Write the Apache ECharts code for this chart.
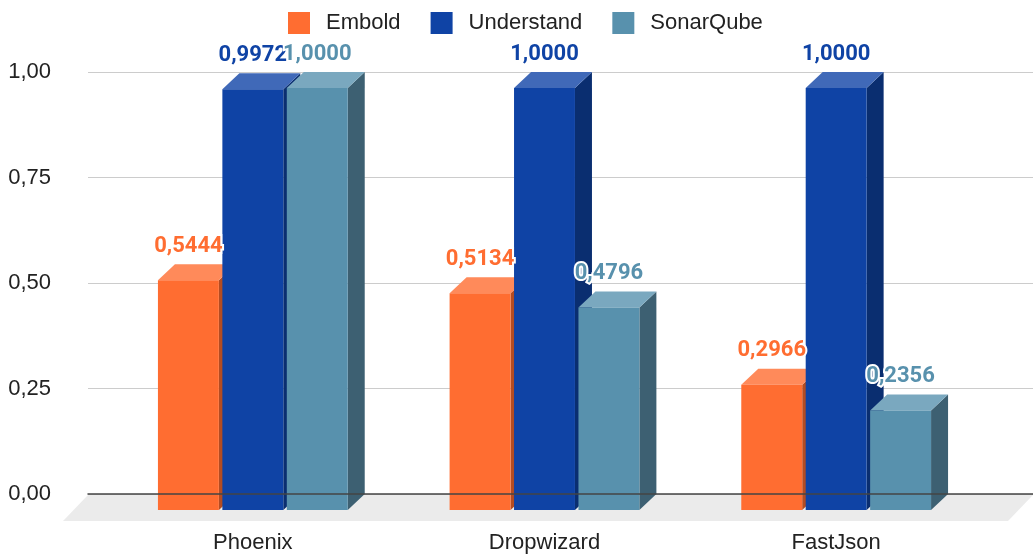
<!DOCTYPE html>
<html>
<head>
<meta charset="utf-8">
<script src="https://cdn.jsdelivr.net/npm/echarts@6/dist/echarts.min.js"></script>
<style>
    html, body { margin: 0; padding: 0; background: #fff; }
    #chart { width: 1033px; height: 556px; }
</style>
</head>
<body>
<div id="chart"></div>
<script>
// data
let categories = ['Phoenix', 'Dropwizard', 'FastJson'];
let seriesNames = ['Embold', 'Understand', 'SonarQube'];
let embold = [0.5444, 0.5134, 0.2966];
let understand = [0.9972, 1.0000, 1.0000];
let sonarqube = [1.0000, 0.4796, 0.2356];

// front / top / side colours
let palette = [
    {front: '#ff6d31', top: '#ff8a5a', side: '#b34c22'},
    {front: '#0f43a5', top: '#4069b8', side: '#0a2e70'},
    {front: '#5891ad', top: '#7aa8bf', side: '#3d6072'}
];

let depthX = 17, depthY = 16;
let axisFont = 'Liberation Sans';

function fmt(v, d) {
    return v.toFixed(d).replace('.', ',');
}

function renderBar(params, api) {
    let si = params.seriesIndex - 1;
    let ci = api.value(0);
    let v = api.value(1);
    let pt = api.coord([ci, v]);
    let base = api.coord([ci, 0]);
    let band = api.size([1, 0])[0];
    let barW = band * 61 / 292;
    let step = band * 64.5 / 292;
    let x0 = pt[0] + (si - 1) * step - barW / 2;
    let x1 = x0 + barW;
    let c = palette[si];
    return {
        type: 'group',
        children: [
            {
                type: 'polygon',
                shape: {points: [[x1, pt[1]], [x1 + depthX, pt[1] - depthY], [x1 + depthX, base[1] - depthY], [x1, base[1]]]},
                style: {fill: c.side}
            },
            {
                type: 'polygon',
                shape: {points: [[x0, pt[1]], [x0 + depthX, pt[1] - depthY], [x1 + depthX, pt[1] - depthY], [x1, pt[1]]]},
                style: {fill: c.top}
            },
            {
                type: 'rect',
                shape: {x: x0, y: pt[1], width: barW, height: base[1] - pt[1]},
                style: {fill: c.front}
            },
            {
                type: 'text',
                z2: 100 + si,
                style: {
                    x: x0 + barW / 2,
                    y: pt[1] - depthY - 18,
                    text: fmt(v, 4),
                    fill: c.front,
                    font: 'bold 22px Roboto',
                    align: 'center',
                    verticalAlign: 'middle',
                    stroke: '#fff',
                    lineWidth: 4
                }
            }
        ]
    };
}

function renderFloor(params, api) {
    let cs = params.coordSys;
    let top = cs.y + cs.height + 1;
    let dx = 25, dy = 26;
    return {
        type: 'polygon',
        shape: {points: [[cs.x, top], [cs.x + cs.width, top], [cs.x + cs.width - dx, top + dy], [cs.x - dx, top + dy]]},
        style: {fill: '#ebebeb'}
    };
}

let allValues = [embold, understand, sonarqube];
let barSeries = seriesNames.map((name, i) => ({
    name: name,
    type: 'custom',
    xAxisIndex: 1,
    yAxisIndex: 1,
    itemStyle: {color: palette[i].front},
    renderItem: renderBar,
    data: allValues[i].map((v, k) => [k, v])
}));

let ctx = document.getElementById('chart');
let chart = echarts.init(ctx, null, {renderer: 'canvas'});
let option = {
    animation: false,
    legend: {
        data: seriesNames,
        left: 283,
        top: 7,
        icon: 'rect',
        itemWidth: 22,
        itemHeight: 22,
        itemGap: 30,
        textStyle: {fontSize: 22, fontFamily: axisFont, color: '#222', padding: [0, 0, 0, 11]}
    },
    grid: [
        // back plane
        {left: 88, right: 0, top: 72, bottom: 62},
        // front plane
        {left: 107, right: 51, top: 88, bottom: 46}
    ],
    xAxis: [
        {
            gridIndex: 0,
            type: 'category',
            data: categories,
            axisLine: {show: true, lineStyle: {color: '#444', width: 1.5}},
            axisTick: {show: false},
            axisLabel: {show: false},
            z: 3
        },
        {
            gridIndex: 1,
            type: 'category',
            data: categories,
            axisLine: {show: false},
            axisTick: {show: false},
            axisLabel: {margin: 22, fontSize: 22, fontFamily: axisFont, color: '#222'}
        }
    ],
    yAxis: [
        {
            gridIndex: 0,
            type: 'value',
            min: 0,
            max: 1,
            interval: 0.25,
            axisLine: {show: false},
            axisTick: {show: false},
            splitLine: {lineStyle: {color: '#cccccc'}},
            axisLabel: {margin: 37, fontSize: 22, fontFamily: axisFont, color: '#222', formatter: v => fmt(v, 2)}
        },
        {
            gridIndex: 1,
            type: 'value',
            min: 0,
            max: 1,
            show: false
        }
    ],
    series: [{
        type: 'custom',
        xAxisIndex: 0,
        yAxisIndex: 0,
        z: 1,
        silent: true,
        renderItem: renderFloor,
        data: [[0, 0]]
    }].concat(barSeries)
};
chart.setOption(option, true);

window.onresize = () => {
    chart.resize();
};
</script>
</body>
</html>
